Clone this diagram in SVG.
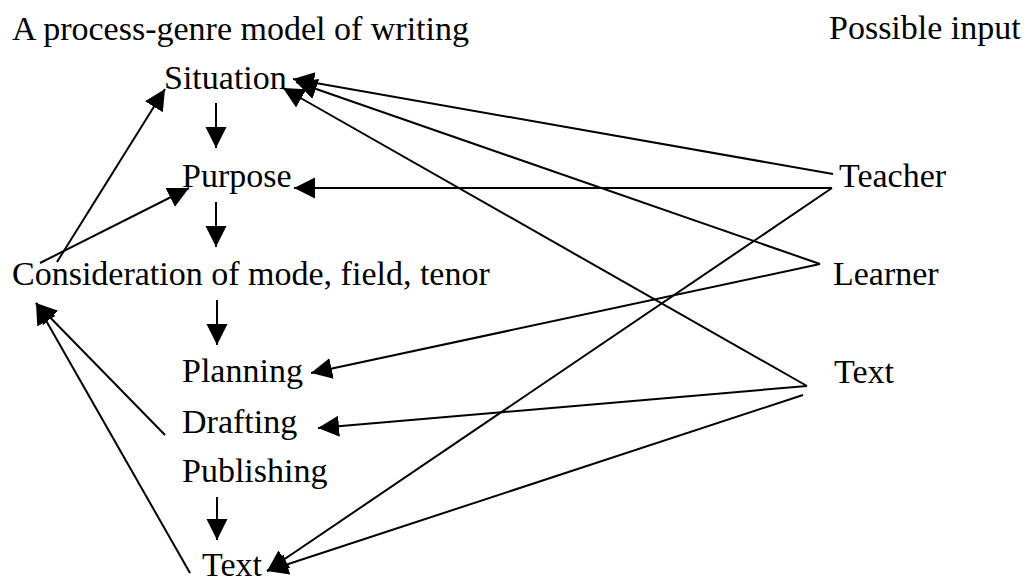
<svg xmlns="http://www.w3.org/2000/svg" width="1026" height="581" viewBox="0 0 1026 581">
<style>
text{font-family:"Liberation Serif","Times New Roman","DejaVu Serif",serif;font-size:34px;fill:#000}
.c line{stroke:#000;stroke-width:2;fill:none;marker-end:url(#ah)}
</style>
<defs>
<marker id="ah" markerUnits="userSpaceOnUse" markerWidth="24" markerHeight="24" refX="21" refY="10.5" orient="auto">
<path d="M0,0 L21,10.5 L0,21 z" fill="#000"/>
</marker>
</defs>
<rect width="1026" height="581" fill="#fff"/>
<g id="title"><text x="12" y="40" font-family="Liberation Serif, serif">A process-genre model of writing</text></g>
<g id="possible-input"><text x="829" y="39" font-family="Liberation Serif, serif">Possible input</text></g>
<g id="situation"><text x="164" y="89" font-family="Liberation Serif, serif">Situation</text></g>
<g id="purpose"><text x="182" y="187" font-family="Liberation Serif, serif">Purpose</text></g>
<g id="consideration"><text x="12" y="285" font-family="Liberation Serif, serif">Consideration of mode, field, tenor</text></g>
<g id="planning"><text x="182" y="382" font-family="Liberation Serif, serif">Planning</text></g>
<g id="drafting"><text x="182" y="433" font-family="Liberation Serif, serif">Drafting</text></g>
<g id="publishing"><text x="182" y="482" font-family="Liberation Serif, serif">Publishing</text></g>
<g id="text-out"><text x="202" y="576" font-family="Liberation Serif, serif">Text</text></g>
<g id="teacher"><text x="839" y="187" font-family="Liberation Serif, serif">Teacher</text></g>
<g id="learner"><text x="833" y="285" font-family="Liberation Serif, serif">Learner</text></g>
<g id="text-in"><text x="834" y="383" font-family="Liberation Serif, serif">Text</text></g>
<g id="connectors" class="c">
<line x1="216" y1="103" x2="216" y2="148"/>
<line x1="216" y1="202" x2="216" y2="247"/>
<line x1="217" y1="300" x2="217" y2="345"/>
<line x1="217" y1="497" x2="217" y2="540"/>
<line x1="57" y1="262" x2="165" y2="89"/>
<line x1="40" y1="263" x2="189" y2="188"/>
<line x1="165" y1="435" x2="36" y2="303"/>
<line x1="190" y1="573" x2="36" y2="303"/>
<line x1="833" y1="174" x2="293" y2="79"/>
<line x1="820" y1="264" x2="296" y2="82"/>
<line x1="807" y1="386" x2="283" y2="88"/>
<line x1="832" y1="188" x2="294" y2="188"/>
<line x1="820" y1="264" x2="311" y2="373"/>
<line x1="807" y1="386" x2="318" y2="428"/>
<line x1="832" y1="188" x2="267" y2="571"/>
<line x1="803" y1="395" x2="267" y2="571"/>
</g>
</svg>
